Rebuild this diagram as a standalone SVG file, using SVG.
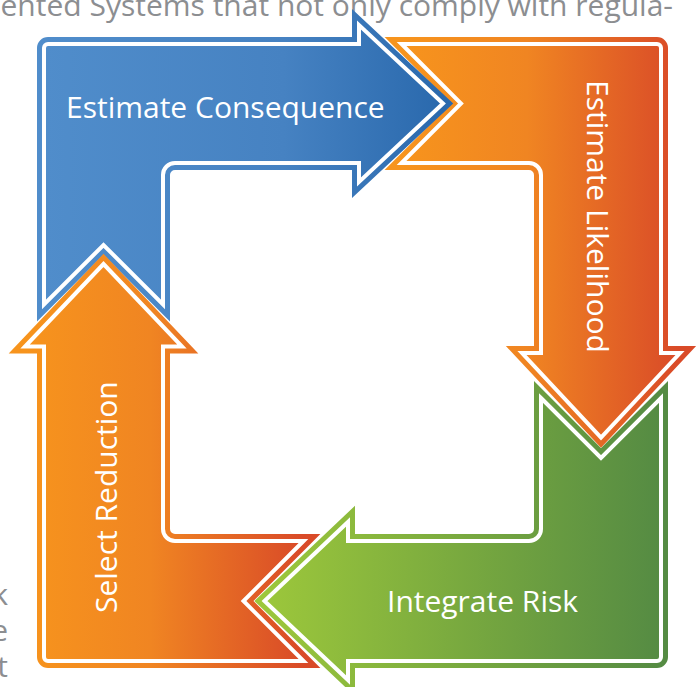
<svg xmlns="http://www.w3.org/2000/svg" width="700" height="687" viewBox="0 0 700 687">
<style>
.band{stroke-width:14;stroke-linejoin:miter;stroke-miterlimit:6}
.line{fill:none;stroke:#ffffff;stroke-width:4;stroke-linejoin:miter;stroke-miterlimit:6}
.lbl{font-family:"Open Sans","Noto Sans","Liberation Sans",sans-serif;font-size:30px;fill:#ffffff}
.bg{font-family:"Open Sans","Noto Sans","Liberation Sans",sans-serif;font-size:30px;fill:#8c8e91}
</style>
<defs>
<linearGradient id="gBlue" x1="0" y1="0" x2="1" y2="0">
<stop offset="0" stop-color="#508dcb"/>
<stop offset="0.6" stop-color="#4682c2"/>
<stop offset="1" stop-color="#2a69ad"/>
</linearGradient>
<linearGradient id="gOrange" x1="0" y1="0" x2="1" y2="0">
<stop offset="0" stop-color="#f7941d"/>
<stop offset="0.45" stop-color="#f08522"/>
<stop offset="1" stop-color="#d94a28"/>
</linearGradient>
<linearGradient id="gGreen" x1="0" y1="0" x2="1" y2="0">
<stop offset="0" stop-color="#9cc73b"/>
<stop offset="1" stop-color="#558b43"/>
</linearGradient>
<path id="pBlue" d="M44,304.5 V48 A4,4 0 0 1 48,44 H359 V25 L443,103.5 L359,182 V163 H175 A12,12 0 0 0 163,175 V304.5 L103.5,245 Z"/>
<path id="pOrangeR" d="M401.5,44 H657 A4,4 0 0 1 661,48 V353 H680 L601,437.5 L522,353 H541 V175 A12,12 0 0 0 529,163 H401.5 L461,103.5 Z"/>
<path id="pGreen" d="M541,398 L601,458 L661,398 V657 A4,4 0 0 1 657,661 H348 V680 L264.5,601 L348,522 V541 H529 A12,12 0 0 0 541,529 Z"/>
<path id="pOrangeL" d="M303.5,541 L243.5,601 L303.5,661 H48 A4,4 0 0 1 44,657 V346.5 H25 L103.5,264 L182,346.5 H163 V529 A12,12 0 0 0 175,541 Z"/>
</defs>
<rect x="0" y="0" width="700" height="687" fill="#ffffff"/>
<g id="page-text">
<text class="bg" x="673" y="16" text-anchor="end">iented Systems that not only comply with regula-</text>
<text class="bg" x="8" y="605" text-anchor="end">k</text>
<text class="bg" x="8" y="641" text-anchor="end">e</text>
<text class="bg" x="8" y="677" text-anchor="end">t</text>
</g>
<g id="integrate-risk">
<use href="#pGreen" class="band" fill="url(#gGreen)" stroke="url(#gGreen)"/>
<use href="#pGreen" class="line"/>
<text class="lbl" x="387" y="612">Integrate Risk</text>
</g>
<g id="estimate-likelihood">
<use href="#pOrangeR" class="band" fill="url(#gOrange)" stroke="url(#gOrange)"/>
<use href="#pOrangeR" class="line"/>
<text class="lbl" transform="translate(587,80) rotate(90)" x="0" y="0">Estimate Likelihood</text>
</g>
<g id="estimate-consequence">
<use href="#pBlue" class="band" fill="url(#gBlue)" stroke="url(#gBlue)"/>
<use href="#pBlue" class="line"/>
<text class="lbl" x="66" y="118">Estimate Consequence</text>
</g>
<g id="select-reduction">
<use href="#pOrangeL" class="band" fill="url(#gOrange)" stroke="url(#gOrange)"/>
<use href="#pOrangeL" class="line"/>
<text class="lbl" transform="translate(117,613) rotate(-90)" x="0" y="0">Select Reduction</text>
</g>
</svg>
